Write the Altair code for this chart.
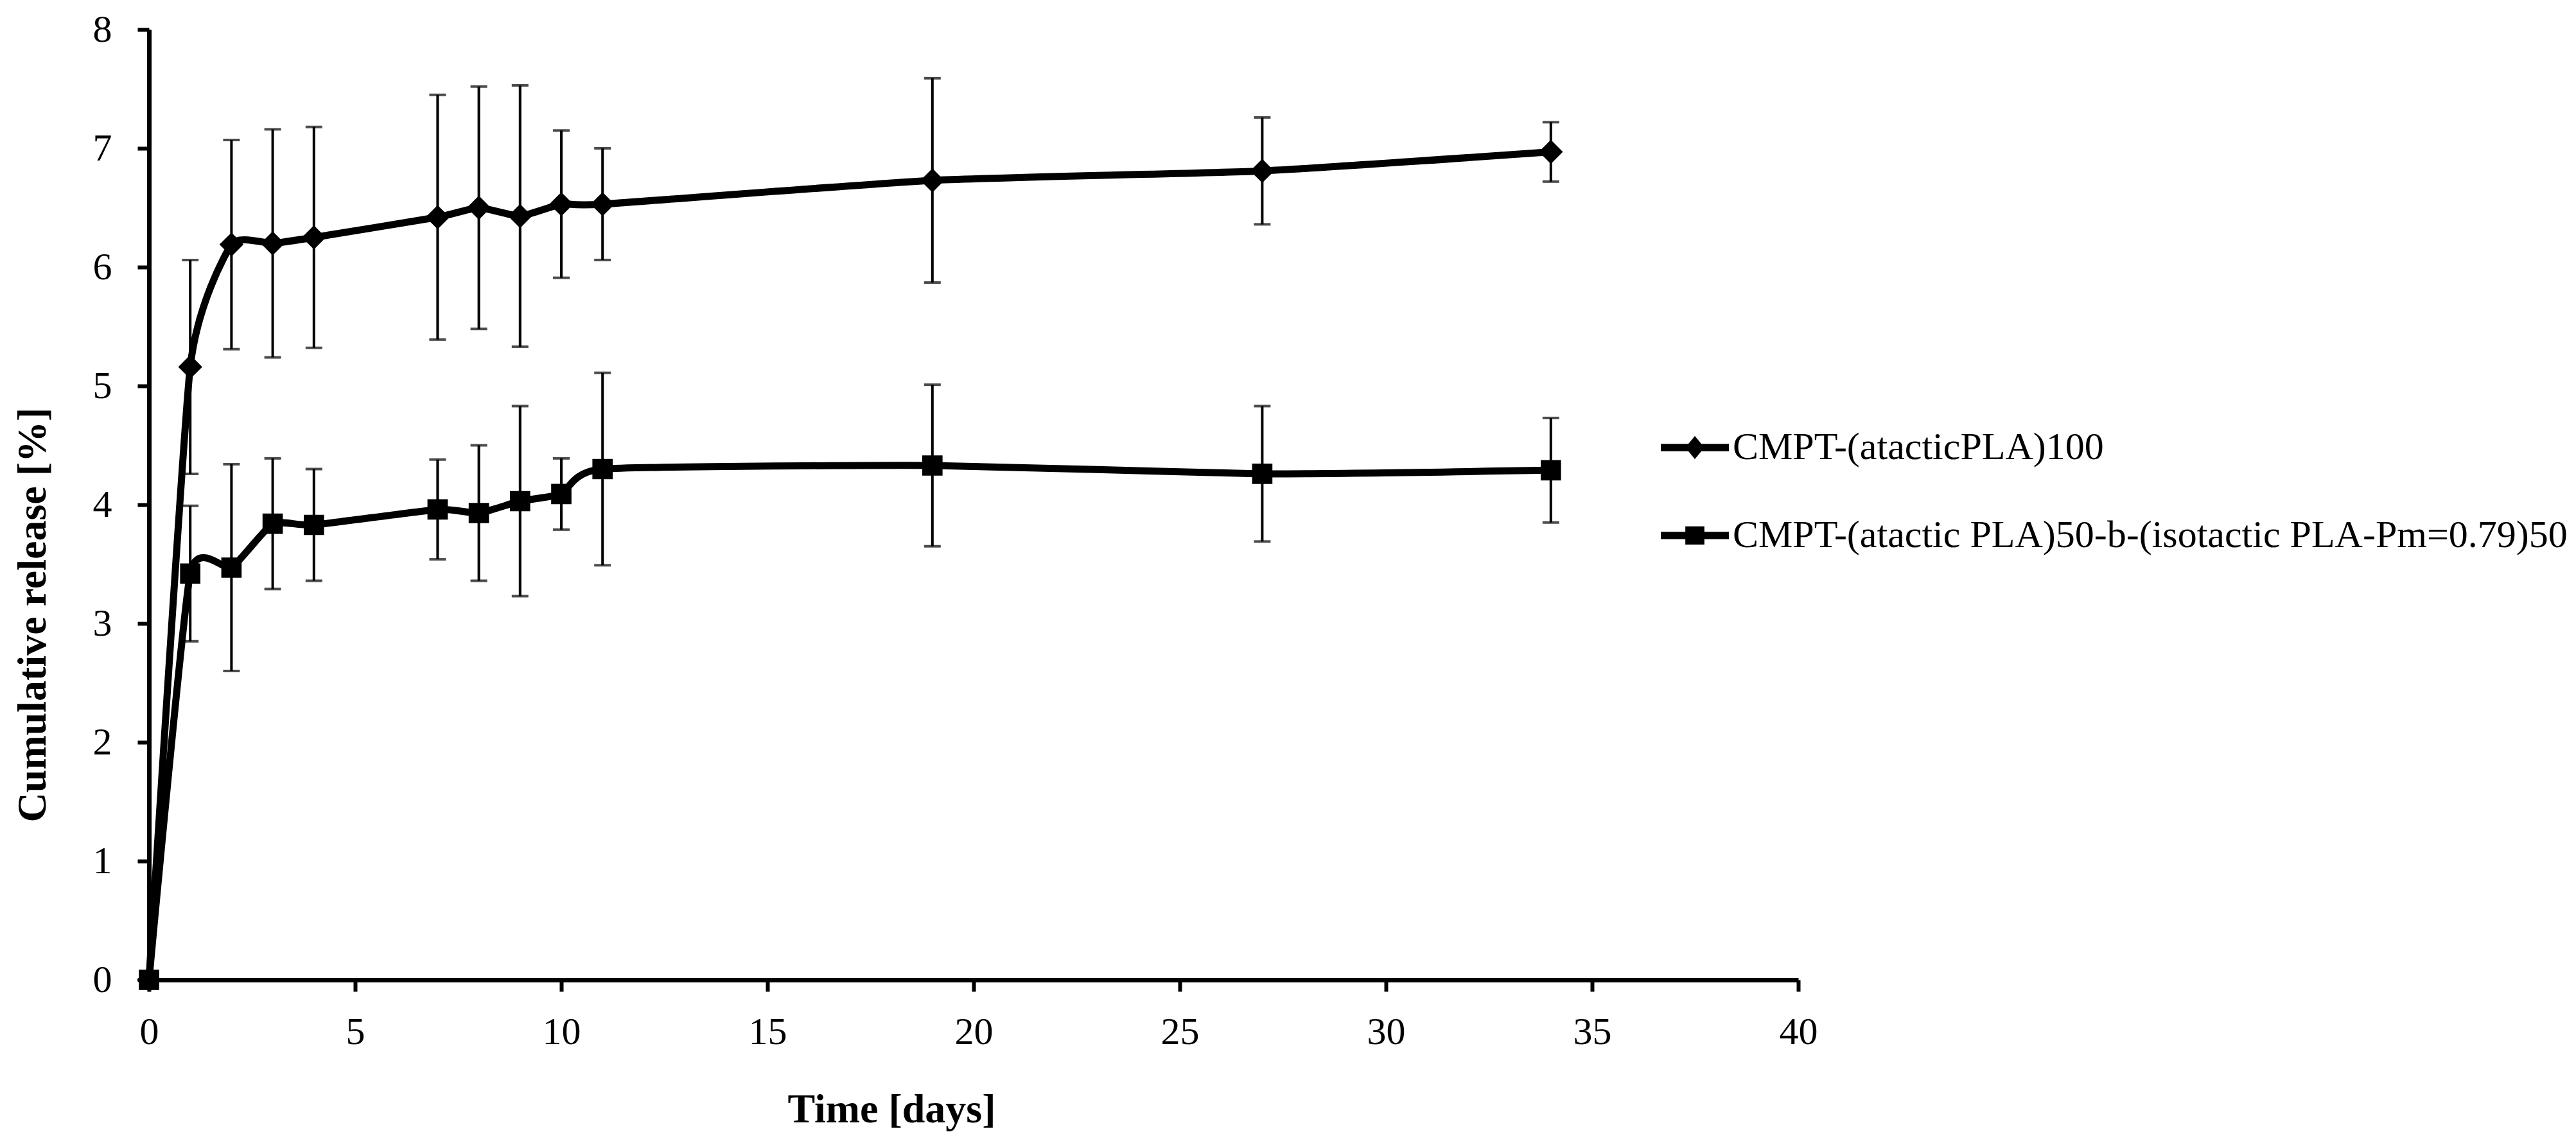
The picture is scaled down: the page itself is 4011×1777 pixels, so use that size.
import altair as alt
import pandas as pd

# ---- data ----
days = [0, 1, 2, 3, 4, 7, 8, 9, 10, 11, 19, 27, 34]
series_names = [
    "CMPT-(atacticPLA)100",
    "CMPT-(atactic PLA)50-b-(isotactic PLA-Pm=0.79)50",
]
s1_mean = [0, 5.16, 6.19, 6.20, 6.25, 6.42, 6.50, 6.43, 6.53, 6.53, 6.73, 6.81, 6.97]
s1_err = [0, 0.90, 0.88, 0.96, 0.93, 1.03, 1.02, 1.10, 0.62, 0.47, 0.86, 0.45, 0.25]
s2_mean = [0, 3.42, 3.47, 3.84, 3.83, 3.96, 3.93, 4.03, 4.09, 4.30, 4.33, 4.26, 4.29]
s2_err = [0, 0.57, 0.87, 0.55, 0.47, 0.42, 0.57, 0.80, 0.30, 0.81, 0.68, 0.57, 0.44]
x_ticks = [0, 5, 10, 15, 20, 25, 30, 35, 40]
y_ticks = [0, 1, 2, 3, 4, 5, 6, 7, 8]

rows = []
for name, means, errs in [(series_names[0], s1_mean, s1_err), (series_names[1], s2_mean, s2_err)]:
    for d, m, e in zip(days, means, errs):
        rows.append({"day": d, "mean": m, "lo": m - e, "hi": m + e, "series": name})
df = pd.DataFrame(rows)

FONT = "Liberation Serif"
W, H = 2568, 1480

x_enc = alt.X(
    "day:Q",
    scale=alt.Scale(domain=[0, 40], nice=False),
    axis=alt.Axis(
        values=x_ticks, format="d", title="Time [days]", grid=False, labelFlush=False,
        labelFont=FONT, labelFontSize=60, labelColor="black", labelPadding=34,
        tickSize=18, tickWidth=6, tickColor="black",
        domainColor="black", domainWidth=7,
        titleFont=FONT, titleFontSize=64, titleFontWeight="bold", titleColor="black",
        titleX=1156, titleY=221, titleBaseline="alphabetic",
    ),
)
y_axis = alt.Axis(
    values=y_ticks, format="d", title="Cumulative release [%]", grid=False, labelFlush=False,
    labelFont=FONT, labelFontSize=60, labelColor="black", labelPadding=40,
    tickSize=18, tickWidth=6, tickColor="black",
    domainColor="black", domainWidth=7,
    titleFont=FONT, titleFontSize=64, titleFontWeight="bold", titleColor="black",
    titleX=-162, titleY=911, titleBaseline="alphabetic",
)
y_enc = alt.Y("mean:Q", scale=alt.Scale(domain=[0, 8], nice=False), axis=y_axis)

base = alt.Chart(df)

err_rule = base.mark_rule(color="black", strokeWidth=4).encode(
    x=alt.X("day:Q"), y=alt.Y("lo:Q"), y2="hi:Q"
)
cap_lo = base.mark_tick(color="black", orient="horizontal", size=26, thickness=4).encode(
    x=alt.X("day:Q"), y=alt.Y("lo:Q")
)
cap_hi = base.mark_tick(color="black", orient="horizontal", size=26, thickness=4).encode(
    x=alt.X("day:Q"), y=alt.Y("hi:Q")
)

line = base.mark_line(color="black", strokeWidth=11, interpolate="cardinal", tension=0.5).encode(
    x=x_enc, y=y_enc, detail="series:N"
)

points = base.mark_point(filled=True, color="black", opacity=1).encode(
    x=alt.X("day:Q"),
    y=alt.Y("mean:Q"),
    shape=alt.Shape("series:N", scale=alt.Scale(domain=series_names, range=["diamond", "square"]), legend=None),
    size=alt.Size("series:N", scale=alt.Scale(domain=series_names, range=[1400, 1000]), legend=None),
)

legend_paths = [
    "M-1,-0.11H1V0.11H-1Z M0,-0.34L0.28,0L0,0.34L-0.28,0Z",
    "M-1,-0.11H1V0.11H-1Z M-0.28,-0.27H0.28V0.27H-0.28Z",
]
legend_layer = base.mark_point(filled=True, color="black", opacity=0).encode(
    x=alt.X("day:Q"),
    y=alt.Y("mean:Q"),
    shape=alt.Shape(
        "series:N",
        scale=alt.Scale(domain=series_names, range=legend_paths),
        legend=alt.Legend(
            title=None, orient="none", legendX=2354, legendY=598,
            symbolSize=11236, symbolFillColor="black", symbolStrokeColor="black",
            symbolStrokeWidth=0, symbolOpacity=1,
            labelFont=FONT, labelFontSize=60, labelColor="black", labelOffset=6,
            labelLimit=2000, rowPadding=54, padding=0,
        ),
    ),
)

chart = (
    alt.layer(line, err_rule, cap_lo, cap_hi, points, legend_layer)
    .resolve_scale(shape="independent")
    .properties(
        width=W, height=H,
        autosize=alt.AutoSizeParams(type="none"),
        padding={"left": 224, "top": 38, "right": 1200, "bottom": 240},
        background="white",
    )
    .configure_view(stroke=None)
)

chart.save("out.html", embed_options={"renderer": "svg", "actions": False})
